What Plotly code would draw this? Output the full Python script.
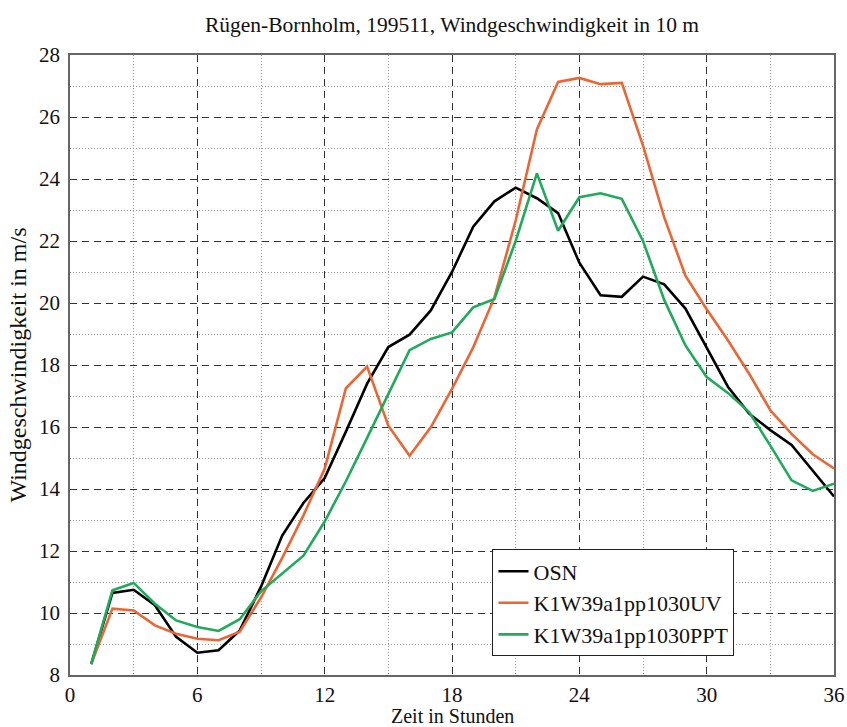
import plotly.graph_objects as go

hours = list(range(1, 37))

osn = [8.35, 10.65, 10.75, 10.25, 9.23, 8.72, 8.8, 9.44, 10.85, 12.5,
       13.55, 14.35, 15.85, 17.4, 18.58, 18.98, 19.76, 21.0, 22.46, 23.28,
       23.72, 23.38, 22.9, 21.3, 20.25, 20.2, 20.85, 20.6, 19.82, 18.55,
       17.3, 16.43, 15.9, 15.42, 14.6, 13.76]

k1_uv = [8.35, 10.14, 10.08, 9.6, 9.33, 9.17, 9.12, 9.4, 10.5, 11.78,
         13.15, 14.65, 17.25, 17.95, 16.04, 15.07, 15.99, 17.23, 18.57, 20.18,
         22.66, 25.6, 27.13, 27.26, 27.06, 27.1, 25.08, 22.76, 20.88, 19.8,
         18.8, 17.72, 16.54, 15.78, 15.12, 14.66]

k1_ppt = [8.35, 10.73, 10.97, 10.3, 9.76, 9.55, 9.42, 9.8, 10.7, 11.27,
          11.85, 12.95, 14.25, 15.65, 17.05, 18.48, 18.84, 19.05, 19.86, 20.13,
          22.0, 24.18, 22.33, 23.41, 23.54, 23.36, 22.0, 20.1, 18.63, 17.61,
          17.1, 16.48, 15.4, 14.28, 13.94, 14.17]

names = ["OSN", "K1W39a1pp1030UV", "K1W39a1pp1030PPT"]
colors = ["#000000", "#EC6534", "#1FAA5C"]

font = "Liberation Serif"

fig = go.Figure()
for name, ys, c in zip(names, [osn, k1_uv, k1_ppt], colors):
    fig.add_trace(go.Scatter(x=hours, y=ys, mode="lines", name=name,
                             line=dict(color=c, width=2.6)))

fig.update_layout(
    width=847, height=727,
    margin=dict(l=70, r=13, t=55, b=52),
    paper_bgcolor="white", plot_bgcolor="white",
    font=dict(family=font, size=21, color="#111"),
    title=dict(text="Rügen-Bornholm, 199511, Windgeschwindigkeit in 10 m",
               x=0.5, xref="paper", xanchor="center",
               y=0.966, yref="container", yanchor="middle",
               font=dict(family=font, size=21.5, color="#111")),
    legend=dict(x=0.553, y=0.03, xanchor="left", yanchor="bottom",
                bgcolor="white", bordercolor="#222", borderwidth=1,
                font=dict(family=font, size=22, color="#111")),
)

# x title as an annotation so it sits right under the tick labels
fig.add_annotation(text="Zeit in Stunden", xref="paper", yref="paper",
                   x=0.5, y=-0.0665, xanchor="center", yanchor="middle",
                   showarrow=False, font=dict(family=font, size=20, color="#111"))

fig.update_xaxes(
    range=[0, 36], dtick=6, tick0=0,
    showgrid=True, gridcolor="#333", griddash="7px,5px", gridwidth=1.3,
    minor=dict(dtick=3, tick0=0, showgrid=True, gridcolor="#9a9a9a",
               griddash="1px,2px", gridwidth=1.2),
    showline=True, linecolor="#666", linewidth=1.6, mirror=True,
    zeroline=False, ticks="", ticklabelstandoff=0, automargin=False,
)

fig.update_yaxes(
    range=[8, 28], dtick=2, tick0=0,
    showgrid=True, gridcolor="#333", griddash="7px,5px", gridwidth=1.3,
    minor=dict(dtick=1, tick0=0, showgrid=True, gridcolor="#9a9a9a",
               griddash="1px,2px", gridwidth=1.2),
    showline=True, linecolor="#666", linewidth=1.6, mirror=True,
    zeroline=False, ticks="", ticklabelstandoff=4, automargin=False,
    title=dict(text="Windgeschwindigkeit in m/s", standoff=6,
               font=dict(family=font, size=24)),
)

# the page body has a default 8px margin; drop it so the figure fills the window
fig.write_html("out.html", config={"displayModeBar": False},
               post_script="document.body.style.margin='0';document.body.style.overflow='hidden';")
